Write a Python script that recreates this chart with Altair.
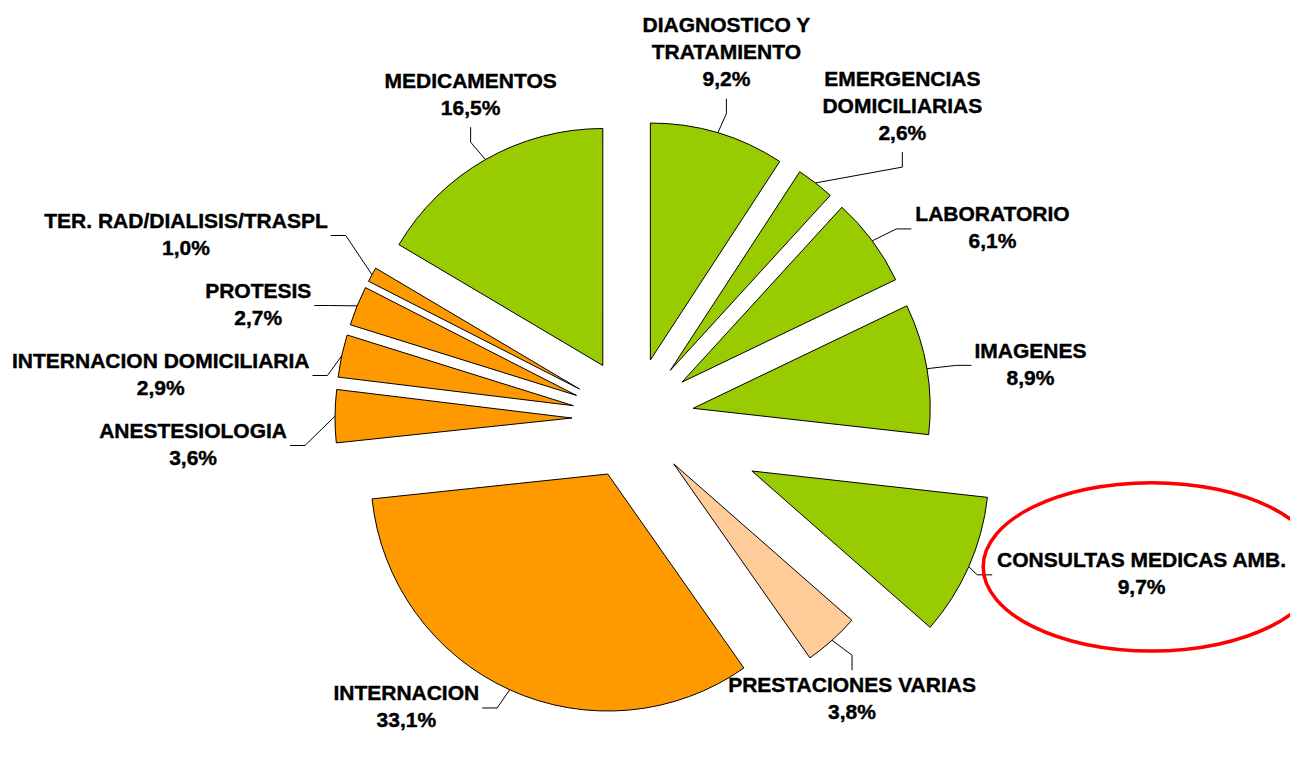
import altair as alt
import pandas as pd

# ---------------- data ----------------
categories = [
    "DIAGNOSTICO Y\nTRATAMIENTO",
    "EMERGENCIAS\nDOMICILIARIAS",
    "LABORATORIO",
    "IMAGENES",
    "CONSULTAS MEDICAS AMB.",
    "PRESTACIONES VARIAS",
    "INTERNACION",
    "ANESTESIOLOGIA",
    "INTERNACION DOMICILIARIA",
    "PROTESIS",
    "TER. RAD/DIALISIS/TRASPL",
    "MEDICAMENTOS",
]
shares = [9.2, 2.6, 6.1, 8.9, 9.7, 3.8, 33.1, 3.6, 2.9, 2.7, 1.0, 16.5]
groups = ["Ambulatorio", "Ambulatorio", "Ambulatorio", "Ambulatorio", "Ambulatorio",
          "Varias", "Internación", "Internación", "Internación", "Internación",
          "Internación", "Ambulatorio"]
highlight = "CONSULTAS MEDICAS AMB."

# ---------------- layout / style ----------------
W, H = 1282, 740
CX, CY = 625, 410.5          # pie centre
R = 237                       # pie radius
EXPLODE, EXPLODE_HI = 61, 130 # slice explosion
GX, GY = 30, 20               # leader length beyond the arc
STUB = 15                     # short leader segment next to the label
FS, LH, CAP = 21, 27, 15      # font size, line height, cap height
SP = 70                       # min vertical spacing between side labels
PADX = 12                     # min horizontal gap between top labels
FONT = "Liberation Sans"
group_domain = ["Ambulatorio", "Internación", "Varias"]
group_range = ["#99CC00", "#FF9900", "#FFCC99"]

# Arial-bold advance widths (em) for label-width estimation
ADV = {"I": .278, " ": .278, ".": .278, ",": .278, "/": .278, "E": .667, "S": .667,
       "P": .667, "T": .611, "L": .611, "M": .833, "O": .778, "G": .778, "Y": .667, "%": .889}


def text_width(s):
    return max(sum(ADV.get(ch, .722 if ch.isalpha() else .556) for ch in line) * FS
               for line in s.split("\n"))


labels = [c + "\n" + f"{v:.1f}".replace(".", ",") + "%" for c, v in zip(categories, shares)]
df = pd.DataFrame({
    "name": categories,
    "share": shares,
    "group": groups,
    "idx": list(range(len(categories))),
    "label": labels,
    "nl": [lab.count("\n") + 1 for lab in labels],
    "w": [text_width(c) for c in categories],
})

desc_ey = [alt.SortField("ey0", order="descending")]
asc_ey = [alt.SortField("ey0", order="ascending")]
asc_ex = [alt.SortField("ex", order="ascending")]

base = (
    alt.Chart(df)
    .transform_window(cum="sum(share)", sort=[alt.SortField("idx", order="ascending")], frame=[None, 0])
    .transform_joinaggregate(total="sum(share)")
    .transform_calculate(a0="2*PI*(datum.cum-datum.share)/datum.total")
    .transform_calculate(a1="2*PI*datum.cum/datum.total")
    .transform_calculate(mid="(datum.a0+datum.a1)/2")
    .transform_calculate(d=f"datum.name === '{highlight}' ? {EXPLODE_HI} : {EXPLODE}")
    .transform_calculate(s="sin(datum.mid)", c="cos(datum.mid)")
    .transform_calculate(
        tx=f"{CX} + datum.d*datum.s",
        ty=f"{CY} - datum.d*datum.c",
        px=f"{CX} + (datum.d+{R})*datum.s",
        py=f"{CY} - (datum.d+{R})*datum.c",
        ex=f"{CX} + (datum.d+{R + GX})*datum.s",
        ey0=f"{CY} - (datum.d+{R + GY})*datum.c",
        half=f"((datum.nl-1)*{LH}+{CAP})/2",
    )
    .transform_calculate(
        mode=f"datum.c > 0.75 ? 'top' : ((datum.c < -0.7 && datum.ey0 + {STUB} + 8 + 2*datum.half < {H}) ? 'bottom' : (datum.s > 0 ? 'right' : 'left'))"
    )
    # vertical de-overlap of side labels: push up pass + push down pass, averaged
    .transform_window(rn="row_number()", groupby=["mode"], sort=desc_ey)
    .transform_calculate(k=f"datum.ey0 + datum.rn*{SP}")
    .transform_window(kmin="min(k)", groupby=["mode"], sort=desc_ey, frame=[None, 0])
    .transform_window(rnd="row_number()", groupby=["mode"], sort=asc_ey)
    .transform_calculate(kd=f"datum.ey0 - datum.rnd*{SP}")
    .transform_window(kdmax="max(kd)", groupby=["mode"], sort=asc_ey, frame=[None, 0])
    .transform_calculate(
        ey=(f"(datum.mode==='left'||datum.mode==='right') ? "
            f"((datum.kmin - datum.rn*{SP}) + (datum.kdmax + datum.rnd*{SP}))/2 : datum.ey0")
    )
    # horizontal de-overlap of top labels (push rightwards)
    .transform_window(S="sum(w)", rn2="row_number()", groupby=["mode"], sort=asc_ex, frame=[None, 0])
    .transform_calculate(cc=f"datum.S - datum.w/2 + datum.rn2*{PADX}")
    .transform_calculate(k2="datum.ex - datum.cc")
    .transform_window(k2max="max(k2)", groupby=["mode"], sort=asc_ex, frame=[None, 0])
    .transform_calculate(
        ex2=(f"datum.mode==='top' ? datum.k2max + datum.cc : "
             f"(datum.mode==='right' ? min(datum.ex, {W} - 2 - datum.w - 3 - {STUB}) : "
             f"(datum.mode==='left' ? max(datum.ex, 4 + datum.w + 3 + {STUB}) : datum.ex))")
    )
    .transform_calculate(
        ax=f"datum.mode==='right' ? datum.ex2+{STUB} : (datum.mode==='left' ? datum.ex2-{STUB} : datum.ex2)",
        ay=f"datum.mode==='top' ? datum.ey-{STUB} : (datum.mode==='bottom' ? datum.ey+{STUB} : datum.ey)",
    )
    .transform_calculate(
        lx="datum.mode==='right' ? datum.ax+3+datum.w/2 : (datum.mode==='left' ? datum.ax-3-datum.w/2 : datum.ax)",
        ly="datum.mode==='top' ? datum.ay-11-datum.half : (datum.mode==='bottom' ? datum.ay+8+datum.half : datum.ay)",
    )
    .transform_calculate(ly1=f"datum.ly - (datum.nl-1)*{LH}/2")
)

arcs = base.mark_arc(radius=R, stroke="black", strokeWidth=1).encode(
    theta=alt.Theta("a0:Q", scale=None, stack=None),
    theta2=alt.Theta2("a1:Q"),
    x=alt.X("tx:Q", scale=None, axis=None),
    y=alt.Y("ty:Q", scale=None, axis=None),
    color=alt.Color("group:N", scale=alt.Scale(domain=group_domain, range=group_range), legend=None),
)

lead1 = base.mark_rule(color="black", strokeWidth=1).encode(
    x=alt.X("px:Q", scale=None, axis=None), y=alt.Y("py:Q", scale=None, axis=None),
    x2=alt.X2("ex2:Q"), y2=alt.Y2("ey:Q"),
)
lead2 = base.mark_rule(color="black", strokeWidth=1).encode(
    x=alt.X("ex2:Q", scale=None, axis=None), y=alt.Y("ey:Q", scale=None, axis=None),
    x2=alt.X2("ax:Q"), y2=alt.Y2("ay:Q"),
)

text = base.mark_text(
    font=FONT, fontSize=FS, fontWeight="bold", lineBreak="\n", lineHeight=LH,
    align="center", baseline="middle", color="black", stroke="black", strokeWidth=0.4,
).encode(
    x=alt.X("lx:Q", scale=None, axis=None),
    y=alt.Y("ly1:Q", scale=None, axis=None),
    text="label:N",
)

ELLIPSE = "M -1 0 A 1 0.5 0 1 1 1 0 A 1 0.5 0 1 1 -1 0 Z"
ring = (
    base.transform_filter(f"datum.name === '{highlight}'")
    .transform_calculate(esz="4*pow(datum.w/2+22, 2)", rx="datum.lx+10", ry="datum.ly-8")
    .mark_point(shape=ELLIPSE, filled=False, color="#FF0000", strokeWidth=3.5, opacity=1)
    .encode(
        x=alt.X("rx:Q", scale=None, axis=None),
        y=alt.Y("ry:Q", scale=None, axis=None),
        size=alt.Size("esz:Q", scale=None, legend=None),
    )
)

chart = (
    alt.layer(arcs, lead1, lead2, text, ring)
    .properties(width=W, height=H, autosize=alt.AutoSizeParams(type="none"), padding=0)
    .configure_view(stroke=None)
)

chart.save("out.html", embed_options={"renderer": "svg", "actions": False})
